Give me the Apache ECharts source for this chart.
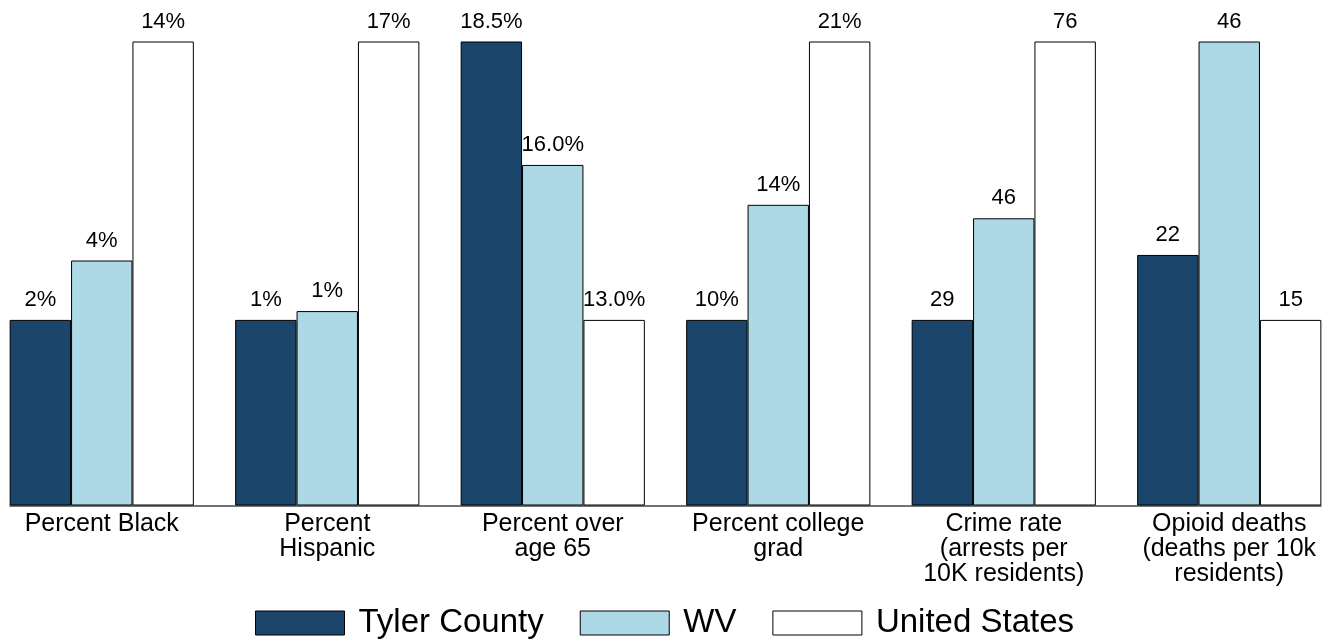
<!DOCTYPE html>
<html>
<head>
<meta charset="utf-8">
<script src="https://cdn.jsdelivr.net/npm/echarts@6/dist/echarts.min.js"></script>
<style>
html,body{margin:0;padding:0;background:#fff;overflow:hidden;width:1332px;height:640px}
#c{position:absolute;left:-11px;top:0;width:1353px;height:640px}
</style>
</head>
<body>
<div id="c"></div>
<script>
// Categories (axis labels)
var categories = [
  'Percent Black',
  'Percent\nHispanic',
  'Percent over\nage 65',
  'Percent college\ngrad',
  'Crime rate\n(arrests per\n10K residents)',
  'Opioid deaths\n(deaths per 10k\nresidents)'
];
var seriesNames = ['Tyler County', 'WV', 'United States'];

// Printed values above each bar
var tylerLabels = ['2%', '1%', '18.5%', '10%', '29', '22'];
var wvLabels    = ['4%', '1%', '16.0%', '14%', '46', '46'];
var usLabels    = ['14%', '17%', '13.0%', '21%', '76', '15'];

// Bar heights as drawn (relative index, largest bar in each group = 100)
var tylerBar = [40, 40, 100, 40, 40, 54];
var wvBar    = [52.8, 41.9, 73.4, 64.8, 61.9, 100];
var usBar    = [100, 100, 40, 100, 100, 40];

var FONT = '"Liberation Sans", Arial, sans-serif';
var colors = ['#1b456b', '#add8e6', '#ffffff'];

function mkSeries(name, heights, labels, color) {
  return {
    name: name,
    type: 'bar',
    xAxisIndex: 0,
    yAxisIndex: 0,
    barWidth: 61.4,
    barGap: '0%',
    itemStyle: { color: color, borderColor: '#000', borderWidth: 1 },
    label: {
      show: true,
      position: 'top',
      distance: 9,
      color: '#000',
      fontFamily: FONT,
      fontSize: 22,
      formatter: function (p) { return labels[p.dataIndex]; }
    },
    emphasis: { disabled: true },
    data: heights
  };
}

var chart = echarts.init(document.getElementById('c'), null, { renderer: 'canvas' });
chart.setOption({
  animation: false,
  backgroundColor: '#fff',
  textStyle: { fontFamily: FONT },
  grid: [
    { left: 0, right: 0, top: 41.5, bottom: 134.5 },
    { left: 21, right: 21, top: 41.5, bottom: 134.5 }
  ],
  xAxis: [
    {
      type: 'category',
      gridIndex: 0,
      data: categories,
      axisLine: { show: false },
      axisTick: { show: false },
      axisLabel: {
        interval: 0,
        margin: 6,
        color: '#000',
        fontFamily: FONT,
        fontSize: 25,
        lineHeight: 25,
        align: 'center'
      }
    },
    {
      type: 'value',
      gridIndex: 1,
      min: 0,
      max: 1,
      axisLine: { show: true, lineStyle: { color: '#444', width: 1.5 } },
      axisTick: { show: false },
      axisLabel: { show: false },
      splitLine: { show: false }
    }
  ],
  yAxis: [
    { type: 'value', gridIndex: 0, min: 0, max: 100, show: false, splitLine: { show: false } },
    { type: 'value', gridIndex: 1, min: 0, max: 1, show: false, splitLine: { show: false } }
  ],
  legend: {
    data: seriesNames,
    left: 261,
    top: 601.5,
    itemWidth: 89,
    itemHeight: 24,
    itemGap: 36,
    icon: 'rect',
    itemStyle: { borderColor: '#000', borderWidth: 1 },
    textStyle: { fontFamily: FONT, fontSize: 33, color: '#000', padding: [0, 0, 0, 9] },
    selectedMode: false
  },
  series: [
    mkSeries(seriesNames[0], tylerBar, tylerLabels, colors[0]),
    mkSeries(seriesNames[1], wvBar, wvLabels, colors[1]),
    mkSeries(seriesNames[2], usBar, usLabels, colors[2])
  ]
});
</script>
</body>
</html>
